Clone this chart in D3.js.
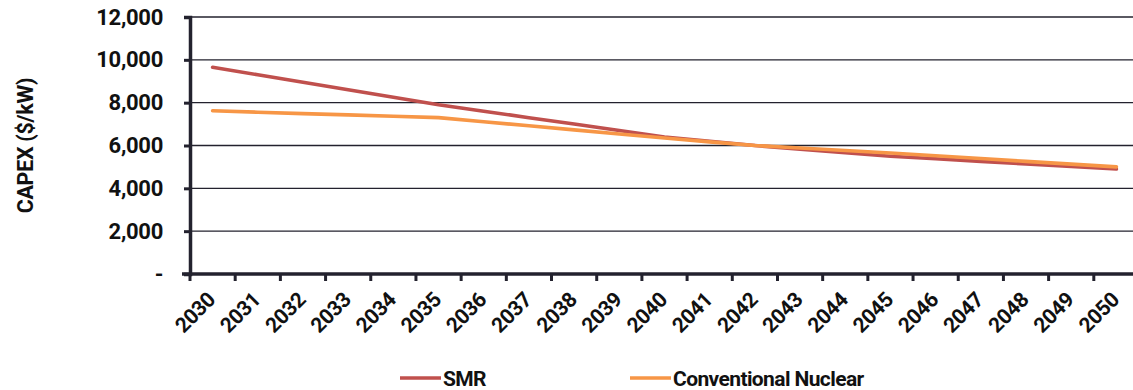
<!DOCTYPE html>
<html>
<head>
<meta charset="utf-8">
<script src="https://cdn.jsdelivr.net/npm/d3@7"></script>
<style>
  html, body { margin: 0; padding: 0; background: #fff; }
  svg { display: block; font-family: Roboto, "Liberation Sans", sans-serif; }
</style>
</head>
<body>
<svg id="chart" width="1133" height="390"></svg>
<script>
// Projected capital cost per kW, 2030–2050
const years = d3.range(2030, 2051).map(String);
const smr = [9650, 9300, 8950, 8600, 8250, 7900, 7600, 7300, 7000, 6700, 6400,
             6200, 6000, 5830, 5660, 5500, 5380, 5260, 5140, 5020, 4900];
const conventional = [7620, 7555, 7490, 7430, 7365, 7300, 7110, 6920, 6730, 6540, 6350,
                      6170, 6000, 5880, 5770, 5650, 5520, 5390, 5260, 5130, 5000];
const yTicks = [0, 2000, 4000, 6000, 8000, 10000, 12000];
const seriesNames = ["SMR", "Conventional Nuclear"];
const seriesColors = ["#C0504D", "#F79646"];

const svg = d3.select("#chart");
const plotLeft = 190, plotRight = 1139, plotTop = 17, plotBottom = 274;
const ink = "#111";
const axisInk = "#23222e";

const x = d3.scaleBand().domain(years).range([plotLeft, plotRight]);
const y = d3.scaleLinear().domain([0, 12000]).range([plotBottom, plotTop]);

// Horizontal gridlines
svg.append("g")
  .selectAll("line")
  .data(yTicks.filter(d => d > 0))
  .join("line")
  .attr("x1", plotLeft).attr("x2", 1133)
  .attr("y1", d => y(d)).attr("y2", d => y(d))
  .attr("stroke", axisInk).attr("stroke-width", 1.4);

// Y axis
const fmt = d3.format(",");
const yAxis = svg.append("g")
  .attr("transform", `translate(${plotLeft},0)`)
  .call(d3.axisLeft(y).tickValues(yTicks).tickSize(6).tickPadding(21)
    .tickFormat(d => d === 0 ? "-" : fmt(d)));
yAxis.select(".domain").attr("stroke", axisInk).attr("stroke-width", 3.5);
yAxis.selectAll(".tick line").attr("stroke", axisInk).attr("stroke-width", 3);
yAxis.selectAll(".tick text")
  .attr("fill", ink).attr("font-size", 22).attr("font-weight", 700)
  .attr("letter-spacing", -0.3)
  .attr("font-family", "Roboto, sans-serif");

// X axis with ticks between categories
const xAxisG = svg.append("g").attr("transform", `translate(0,${plotBottom})`);
xAxisG.append("line")
  .attr("x1", plotLeft - 8).attr("x2", 1133)
  .attr("stroke", axisInk).attr("stroke-width", 3.5);
const boundaries = years.map(d => x(d)).concat([x(years[years.length - 1]) + x.bandwidth()]);
xAxisG.selectAll("line.tk")
  .data(boundaries)
  .join("line").attr("class", "tk")
  .attr("x1", d => d).attr("x2", d => d)
  .attr("y1", 0).attr("y2", 7)
  .attr("stroke", axisInk).attr("stroke-width", 3);
xAxisG.selectAll("text")
  .data(years)
  .join("text")
  .attr("transform", d => `translate(${x(d) + x.bandwidth() / 2 + 4},${27}) rotate(-45)`)
  .attr("text-anchor", "end")
  .attr("fill", ink).attr("font-size", 21).attr("font-weight", 700)
  .attr("letter-spacing", -0.4)
  .text(d => d);

// Y axis title
svg.append("text")
  .attr("transform", `translate(33,${(plotTop + plotBottom) / 2}) rotate(-90)`)
  .attr("text-anchor", "middle")
  .attr("fill", ink).attr("font-size", 21.5).attr("font-weight", 700)
  .attr("letter-spacing", -0.3)
  .text("CAPEX ($/kW)");

// Series lines
const line = d3.line()
  .x((d, i) => x(years[i]) + x.bandwidth() / 2)
  .y(d => y(d));
[smr, conventional].forEach((vals, i) => {
  svg.append("path")
    .datum(vals)
    .attr("d", line)
    .attr("fill", "none")
    .attr("stroke", seriesColors[i])
    .attr("stroke-width", 3.6)
    .attr("stroke-linecap", "round")
    .attr("stroke-linejoin", "round");
});

// Legend
const legendX = [400, 630];
const legend = svg.append("g");
seriesNames.forEach((name, i) => {
  const g = legend.append("g").attr("transform", `translate(${legendX[i]},378)`);
  g.append("line").attr("x1", 0).attr("x2", 41)
    .attr("stroke", seriesColors[i]).attr("stroke-width", 3.6);
  g.append("text").attr("x", 43).attr("dy", "0.36em")
    .attr("fill", ink).attr("font-size", 21).attr("font-weight", 700)
    .attr("letter-spacing", -0.6)
    .text(name);
});
</script>
</body>
</html>
